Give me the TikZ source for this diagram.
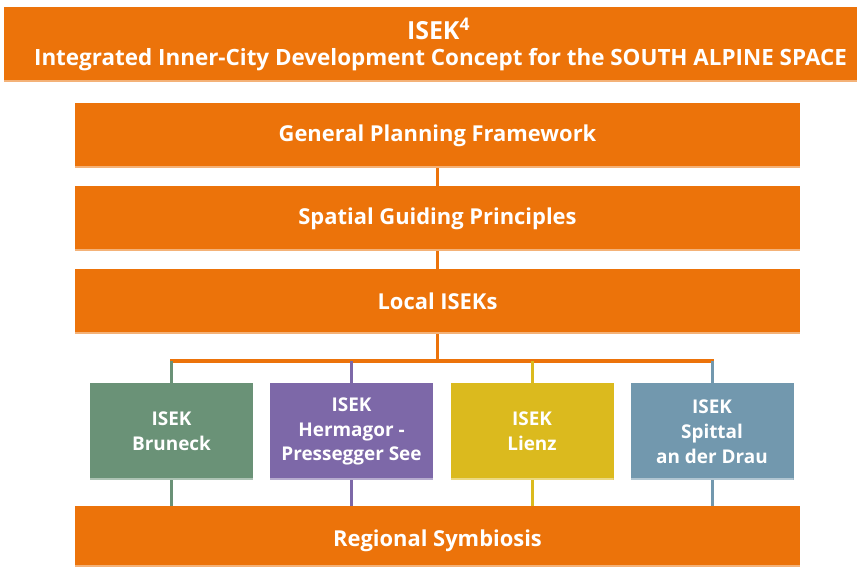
\documentclass[tikz,border=0pt]{standalone}
\usepackage{fontspec}
\setmainfont{Open Sans}
\usetikzlibrary{positioning}
\definecolor{isekorange}{HTML}{EC730A}
\definecolor{isekgreen}{HTML}{6A9277}
\definecolor{isekpurple}{HTML}{7D68A8}
\definecolor{isekyellow}{HTML}{DBBA1E}
\definecolor{isekblue}{HTML}{7298AE}

\begin{document}
\begin{tikzpicture}
[x=1bp, y=-1bp,
edge/.style ={path picture={\fill[white,opacity=0.45]
  ([yshift=2bp]path picture bounding box.south west) rectangle
  (path picture bounding box.south east);}},
bar/.style ={rectangle, fill=isekorange, text=white, edge,
font=\bfseries\fontsize{22}{26}\selectfont, inner sep=0pt,
minimum width=725bp, minimum height=65bp},
city/.style ={rectangle, text=white, edge, align=center,
font=\bfseries\fontsize{19}{25}\selectfont, inner sep=0pt,
minimum width=163bp, minimum height=97bp},
link/.style ={line width=3bp}]

\useasboundingbox (0,0) rectangle (859,567);

% title
\node (title) [rectangle, fill=isekorange, text=white, edge, align=center,
  inner sep=0pt, minimum width=853bp, minimum height=75bp] at (430.5,44.5)
  {{\bfseries\fontsize{25}{28}\selectfont\kern16bp ISEK\textsuperscript{4}}\\[7pt]
   {\bfseries\fontsize{22.5}{26}\selectfont\kern20bp Integrated Inner-City Development Concept for the SOUTH ALPINE SPACE}};

% main chain
\node (frame) [bar] at (437.5,135.5) {General Planning Framework};
\node (guide) [bar] at (437.5,218.5) {Spatial Guiding Principles};
\node (local) [bar] at (437.5,301.5) {Local ISEKs};
\node (regio) [bar, minimum height=61bp] at (437.5,536.5)
  {\raisebox{-4bp}[\height][\depth]{Regional Symbiosis}};

% row of cities
\node (bruneck) [city, fill=isekgreen]  at (171.5,431.5) {ISEK\\Bruneck};
\node (hermagor)[city, fill=isekpurple] at (351.5,431.5) {ISEK\\Hermagor -\\Pressegger See};
\node (lienz)   [city, fill=isekyellow] at (532,431.5)   {ISEK\\Lienz};
\node (spittal) [city, fill=isekblue]   at (712,431.5)   {ISEK\\Spittal\\an der Drau};

\coordinate (fork) at (437.5,361);
\coordinate (forkL) at (171.5,361);
\coordinate (forkR) at (712,361);

\draw[link, isekorange] (frame) -- (guide);
\draw[link, isekorange] (guide) -- (local);
\draw[link, isekorange] (local) -- (fork);
\draw[line width=4bp, isekorange] ([xshift=-1.5bp]forkL) -- ([xshift=1.5bp]forkR);

\draw[link, isekgreen]  (forkL) -- (bruneck);
\draw[link, isekpurple] (351.5,361) -- (hermagor);
\draw[link, isekyellow] (532,361) -- (lienz);
\draw[link, isekblue]   (forkR) -- (spittal);

\draw[link, isekgreen]  (bruneck) -- (regio.north -| bruneck);
\draw[link, isekpurple] (hermagor) -- (regio.north -| hermagor);
\draw[link, isekyellow] (lienz) -- (regio.north -| lienz);
\draw[link, isekblue]   (spittal) -- (regio.north -| spittal);
\end{tikzpicture}
\end{document}
